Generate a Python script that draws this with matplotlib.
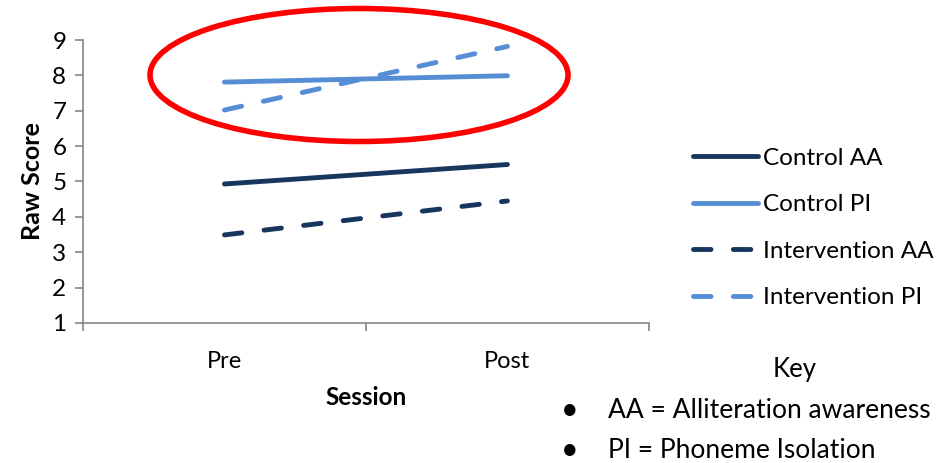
import matplotlib.pyplot as plt
from matplotlib.patches import Ellipse

plt.rcParams['font.family'] = ['Lato', 'DejaVu Sans']

sessions = ['Pre', 'Post']
control_aa = [4.93, 5.48]
control_pi = [7.81, 7.99]
intervention_aa = [3.49, 4.45]
intervention_pi = [7.02, 8.82]

dark = '#17365d'
light = '#558ed5'
axis_grey = '#868686'

fig = plt.figure(figsize=(9.4, 4.63), dpi=100)
ax = fig.add_axes([0.0883, 0.3024, 0.602, 0.6112])

x = range(len(sessions))
lw = 3.5
dash = (3.6, 4.6)
ax.plot(x, control_aa, color=dark, lw=lw, solid_capstyle='round', label='Control AA')
ax.plot(x, control_pi, color=light, lw=lw, solid_capstyle='round', label='Control PI')
ax.plot(x, intervention_aa, color=dark, lw=lw, dashes=dash,
        dash_capstyle='round', label='Intervention AA')
ax.plot(x, intervention_pi, color=light, lw=lw, dashes=dash,
        dash_capstyle='round', label='Intervention PI')

ax.set_xlim(-0.5, 1.5)
ax.set_ylim(1, 9)
ax.set_yticks(range(1, 10))
ax.set_xticks(list(x))
ax.set_xticklabels(sessions)
ax.set_xticks([-0.5, 0.5, 1.5], minor=True)
ax.tick_params(axis='x', which='major', length=0, pad=20, labelsize=17)
ax.tick_params(axis='x', which='minor', length=6, color=axis_grey, width=1.2)
ax.tick_params(axis='y', length=6, color=axis_grey, width=1.2, labelsize=17.5, pad=6)

for side in ('top', 'right'):
    ax.spines[side].set_visible(False)
for side in ('left', 'bottom'):
    ax.spines[side].set_color(axis_grey)
    ax.spines[side].set_linewidth(1.2)

ax.set_ylabel('Raw Score', fontsize=18, fontweight='bold', labelpad=6)
ax.set_xlabel('Session', fontsize=17.5, fontweight='bold', labelpad=10)

# highlight ring round the PI lines
ring = Ellipse((359 / 940, 1 - 75 / 463), 418 / 940, 133 / 463,
               transform=fig.transFigure, fill=False, edgecolor='#ff0000',
               linewidth=4, clip_on=False)
fig.add_artist(ring)

fig.legend(loc='center left', bbox_to_anchor=(0.724, 1 - 228 / 463),
           frameon=False, fontsize=17.5, handlelength=2.7, handletextpad=0.2,
           labelspacing=1.05, borderpad=0)

fig.text(795 / 940, 1 - 370 / 463, 'Key', fontsize=18.5, ha='center', va='center')
fig.text(570 / 940, 1 - 410 / 463, '\u2022', fontsize=22, ha='center', va='center')
fig.text(570 / 940, 1 - 450 / 463, '\u2022', fontsize=22, ha='center', va='center')
fig.text(608 / 940, 1 - 410 / 463, 'AA = Alliteration awareness', fontsize=19,
         ha='left', va='center')
fig.text(608 / 940, 1 - 450 / 463, 'PI = Phoneme Isolation', fontsize=19,
         ha='left', va='center')

fig.savefig('out.png', dpi=100)
